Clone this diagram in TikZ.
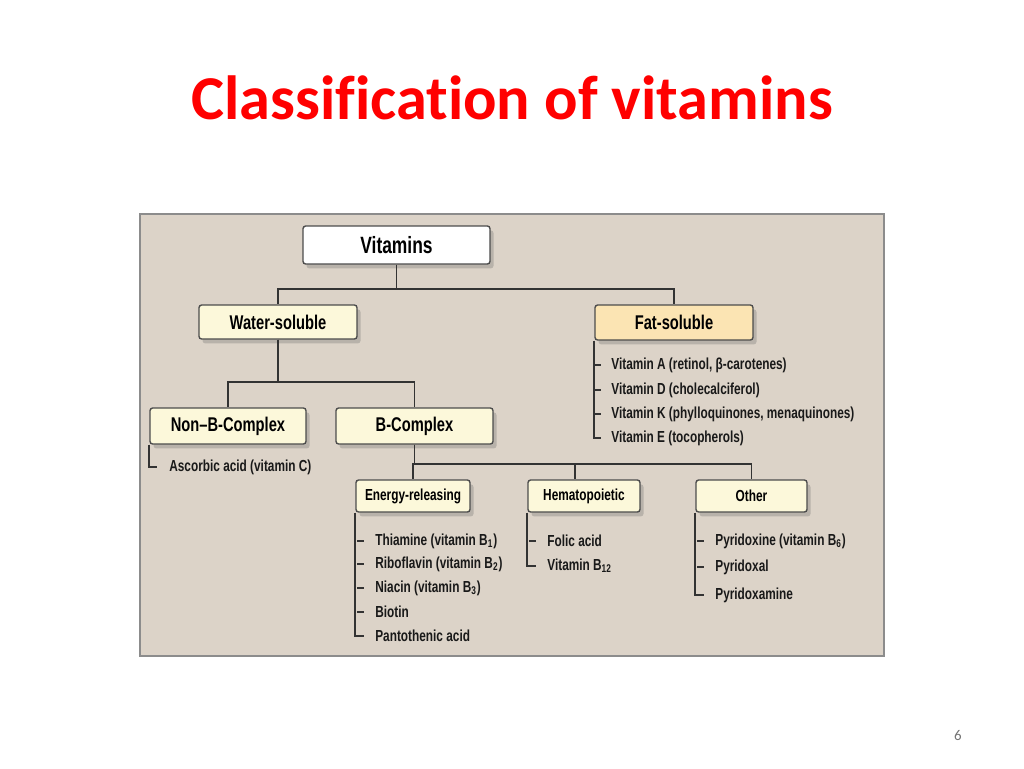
\documentclass[tikz,border=0pt]{standalone}
\usepackage{fontspec}
\setmainfont{Carlito}[Ligatures=NoCommon]
\newfontfamily\narrowfont[FakeStretch=0.74]{Liberation Sans}
\usetikzlibrary{
    positioning,
    calc,
    shadows
}
\definecolor{panelbg}{HTML}{DCD3C8}
\definecolor{panelline}{HTML}{8C8C8C}
\definecolor{boxyellow}{HTML}{FCF8DA}
\definecolor{boxorange}{HTML}{FBE4B3}
\definecolor{linedark}{HTML}{333333}
\definecolor{titlered}{HTML}{FF0000}

\begin{document}
\begin{tikzpicture}[x=0.02cm, y=-0.02cm,
    catbox/.style={draw=black!70, line width=0.8pt, rounded corners=1.5pt, fill=boxyellow,
        font=\narrowfont\bfseries\fontsize{11.3}{13}\selectfont, inner sep=0pt,
        drop shadow={shadow xshift=2pt, shadow yshift=-2.5pt, opacity=0.3, fill=black!60}},
    subbox/.style={catbox, font=\narrowfont\bfseries\fontsize{9.1}{11}\selectfont},
    item/.style={anchor=west, inner sep=0pt, text=black!90,
        font=\narrowfont\bfseries\fontsize{9.1}{11}\selectfont},
    tree/.style={draw=linedark, line width=1.1pt}
]
    \useasboundingbox (0,0) rectangle (1024,768);

    % Title
    \node[font=\bfseries\fontsize{35.5}{40}\selectfont, text=titlered] (title) at (512,98) {Classification of vitamins};

    % Panel
    \draw[fill=panelbg, draw=panelline, line width=0.8pt] (140,214) rectangle (884,656);

    % Top level
    \node[catbox, fill=white, minimum width=3.74cm, minimum height=0.76cm,
        font=\narrowfont\bfseries\fontsize{13.4}{15}\selectfont] (vit) at (396.5,245) {Vitamins};

    % Water / fat soluble
    \node[catbox, minimum width=3.16cm, minimum height=0.68cm] (water) at (278,322) {Water-soluble};
    \node[catbox, fill=boxorange, minimum width=3.16cm, minimum height=0.70cm] (fat) at (674,322.5) {Fat-soluble};

    \draw[tree] (vit.south) -- ++(0,24) -| (water.north);
    \draw[tree] (vit.south) -- ++(0,24) -| (fat.north);

    % Fat-soluble list
    \node[item] (fa) at (611,365) {Vitamin A (retinol, β-carotenes)};
    \node[item] (fd) at (611,390) {Vitamin D (cholecalciferol)};
    \node[item] (fk) at (611,414) {Vitamin K (phylloquinones, menaquinones)};
    \node[item] (fe) at (611,438) {Vitamin E (tocopherols)};

    \draw[tree] (fat.south west) |- ($(fe.west)+(-10,0)$);
    \foreach \n in {fa,fd,fk}
        \draw[tree] ($(\n.west)+(-16,0)$) -- ($(\n.west)+(-10,0)$);

    % Non-B / B complex
    \node[catbox, minimum width=3.12cm, minimum height=0.72cm] (nonb) at (228,426) {Non–B-Complex};
    \node[catbox, minimum width=3.14cm, minimum height=0.72cm] (bcx) at (414.5,426) {B-Complex};

    \draw[tree] (water.south) -- ++(0,42) -| (nonb.north);
    \draw[tree] (water.south) -- ++(0,42) -| (bcx.north);

    \node[item] (asc) at (169,467) {Ascorbic acid (vitamin C)};
    \draw[tree] (nonb.south west) |- ($(asc.west)+(-12,0)$);

    % B-complex groups
    \node[subbox, minimum width=2.28cm, minimum height=0.64cm] (energy) at (413,496) {Energy-releasing};
    \node[subbox, minimum width=2.24cm, minimum height=0.64cm] (hema) at (584,496) {Hematopoietic};
    \node[subbox, minimum width=2.22cm, minimum height=0.64cm] (other) at (751.5,496) {Other};

    \draw[tree] (bcx.south) -- ++(0,19) -| (energy.north);
    \draw[tree] (bcx.south) -- ++(0,19) -| ($(hema.north)+(-9,0)$);
    \draw[tree] (bcx.south) -- ++(0,19) -| (other.north);

    % Energy-releasing list
    \node[item] (e1) at (375,541) {Thiamine (vitamin B\textsubscript{1})};
    \node[item] (e2) at (375,564) {Riboflavin (vitamin B\textsubscript{2})};
    \node[item] (e3) at (375,588) {Niacin (vitamin B\textsubscript{3})};
    \node[item] (e4) at (375,612) {Biotin};
    \node[item] (e5) at (375,636) {Pantothenic acid};

    \draw[tree] (energy.south west) |- ($(e5.west)+(-11,0)$);
    \foreach \n in {e1,e2,e3,e4}
        \draw[tree] ($(\n.west)+(-18,0)$) -- ($(\n.west)+(-11,0)$);

    % Hematopoietic list
    \node[item] (h1) at (547,541) {Folic acid};
    \node[item] (h2) at (547,566) {Vitamin B\textsubscript{12}};

    \draw[tree] (hema.south west) |- ($(h2.west)+(-11,0)$);
    \draw[tree] ($(h1.west)+(-18,0)$) -- ($(h1.west)+(-11,0)$);

    % Other list
    \node[item] (o1) at (715,541) {Pyridoxine (vitamin B\textsubscript{6})};
    \node[item] (o2) at (715,567) {Pyridoxal};
    \node[item] (o3) at (715,595) {Pyridoxamine};

    \draw[tree] (other.south west) |- ($(o3.west)+(-11,0)$);
    \foreach \n in {o1,o2}
        \draw[tree] ($(\n.west)+(-18,0)$) -- ($(\n.west)+(-11,0)$);

    % Page number
    \node[text=black!55, font=\fontsize{8.5}{10}\selectfont] (page) at (958,735) {6};
\end{tikzpicture}
\end{document}
